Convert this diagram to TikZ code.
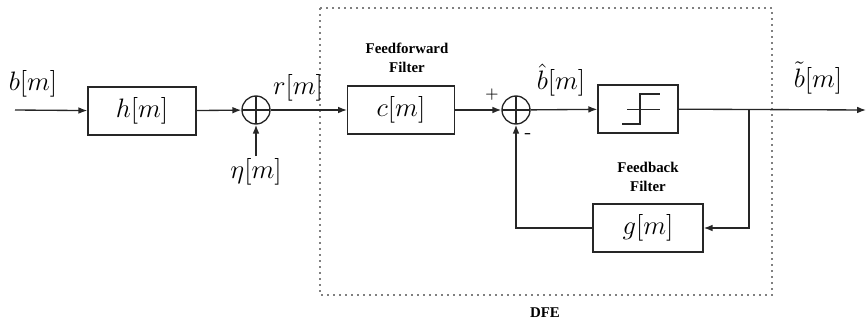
\documentclass[tikz,border=0pt]{standalone}
\usepackage{fontspec}
\newfontfamily\lblfont{Liberation Serif}
\usepackage{amsmath}
\usepackage{tikz}
\usetikzlibrary{arrows.meta, positioning, calc}

\begin{document}
\begin{tikzpicture}[
            x=0.45pt, y=-0.45pt,
            blk/.style={draw=black!85, line width=0.6pt, minimum height=21.5pt,
                        inner sep=0pt, font=\large},
            sumnode/.style={circle, draw=black!85, line width=0.6pt, minimum size=12.6pt,
                        inner sep=0pt,
                        path picture={\draw[line width=0.5pt]
                          (path picture bounding box.north) -- (path picture bounding box.south)
                          (path picture bounding box.west) -- (path picture bounding box.east);}},
            sig/.style={font=\large, inner sep=1pt},
            tag/.style={font=\lblfont\bfseries\fontsize{6.7}{8.5}\selectfont, align=center},
            arr/.style={-{Latex[length=4pt,width=3pt]}, line width=0.6pt, draw=black!85},
            wire/.style={line width=0.5pt, draw=black!85}
          ]
          \useasboundingbox (0,0) rectangle (866,327);
          % DFE frame
          \draw[dotted, gray, line width=0.7pt] (320,8) rectangle (772,295);
          \node[tag] (dfelab) at (545,313) {DFE};
          % channel
          \coordinate (in) at (15,110);
          \node[blk, minimum width=48.6pt] (hbox) at (142,111) {$h[m]$};
          \node[sumnode] (sum1) at (256,110) {};
          \node[sig] (eta) at (256,172) {$\eta[m]$};
          \node[sig] (bin) at (33,84) {$b[m]$};
          \node[sig] (rlab) at (298,88) {$r[m]$};
          % equalizer
          \node[blk, minimum width=48pt] (cbox) at (401,110) {$c[m]$};
          \node[tag] (fflab) at (407,58) {Feedforward\\Filter};
          \node[sumnode] (sum2) at (516,110) {};
          \node[font=\scriptsize] (plus) at (492,95) {$+$};
          \node[font=\small] (minus) at (528,136) {-};
          \node[sig] (bhatlab) at (561,80) {$\hat{b}[m]$};
          \node[blk, minimum width=36pt] (dec) at (638,109) {};
          \draw[wire, line width=0.4pt] (dec.center) ++(-11,0) -- ++(33,0);
          \draw[wire] (dec.center) ++(-16,15) -- ++(18,0) -- ++(0,-30) -- ++(20,0);
          \coordinate (split) at (749,110);
          \coordinate (out) at (866,110);
          \node[sig] (btildelab) at (818,78) {$\tilde{b}[m]$};
          \node[tag] (fblab) at (648,177) {Feedback\\Filter};
          \node[blk, minimum width=49.5pt] (gbox) at (648,228) {$g[m]$};
          % connections
          \draw[arr] (in) -- (hbox);
          \draw[arr] (hbox) -- (sum1);
          \draw[arr] (eta) -- (sum1);
          \draw[arr] (sum1) -- (cbox);
          \draw[arr] (cbox) -- (sum2);
          \draw[arr] (sum2) -- (dec);
          \draw[arr] (dec) -- (out);
          \draw[arr] (split) |- (gbox);
          \draw[arr] (gbox) -| (sum2);
        \end{tikzpicture}
\end{document}
